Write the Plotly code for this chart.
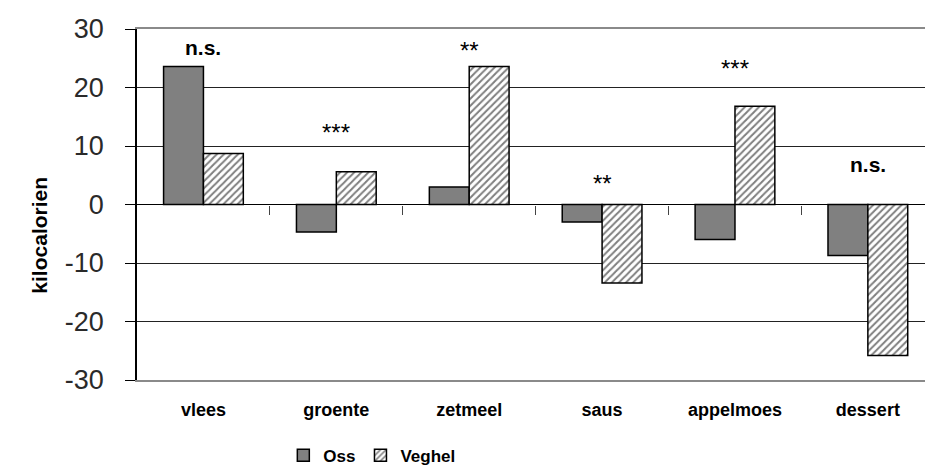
import plotly.graph_objects as go

categories = ["vlees", "groente", "zetmeel", "saus", "appelmoes", "dessert"]
oss = [23.6, -4.7, 3.0, -3.0, -6.0, -8.7]
veghel = [8.7, 5.6, 23.6, -13.4, 16.8, -25.8]
sig_labels = ["n.s.", "***", "**", "**", "***", "n.s."]
sig_y = [26.8, 12.3, 26.3, 3.6, 23.2, 6.8]
yticks = [-30, -20, -10, 0, 10, 20, 30]
ytick_labels = ["-30", "-20", "-10", "0", "10", "20", "30"]

xpos = list(range(len(categories)))
boundaries = [i + 0.5 for i in range(len(categories) - 1)]

fig = go.Figure()
fig.add_trace(go.Bar(
    x=xpos, y=oss, name="Oss",
    marker=dict(color="#808080", line=dict(color="#000000", width=1.5)),
))
fig.add_trace(go.Bar(
    x=xpos, y=veghel, name="Veghel",
    marker=dict(color="#ffffff", line=dict(color="#000000", width=1.5),
                pattern=dict(shape="/", fgcolor="#000000", bgcolor="#ffffff",
                             size=5, solidity=0.4)),
))
# invisible trace for the zero-line tick axis
fig.add_trace(go.Scatter(x=[xpos[0]], y=[0], xaxis="x2", mode="markers",
                         marker=dict(opacity=0), showlegend=False, hoverinfo="skip"))

for i, (lab, yv) in enumerate(zip(sig_labels, sig_y)):
    bold = lab == "n.s."
    fig.add_annotation(x=xpos[i], y=yv, text=f"<b>{lab}</b>" if bold else lab,
                       showarrow=False, xref="x", yref="y",
                       font=dict(family="Arial, Liberation Sans", size=21 if bold else 24,
                                 color="#000000"))

fig.add_annotation(x=-0.142, y=0.413, xref="paper", yref="paper",
                   text="<b>kilocalorien</b>", textangle=-90, showarrow=False,
                   font=dict(family="Arial, Liberation Sans", size=21, color="#000000"))

rng = [-0.5, 5.43]
fig.update_layout(
    width=926, height=475,
    margin=dict(l=137, r=1, t=29, b=95),
    paper_bgcolor="#ffffff", plot_bgcolor="#ffffff",
    barmode="group", bargap=0.4, bargroupgap=0,
    showlegend=True,
    legend=dict(orientation="h", x=0.298, y=-0.216, xanchor="center", yanchor="middle",
                font=dict(family="Arial, Liberation Sans", size=17,
                          color="#000000", weight="bold"),
                traceorder="normal", itemwidth=30),
    xaxis=dict(range=rng, tickmode="array", tickvals=xpos,
               ticktext=[f"<b>{c}</b>" for c in categories],
               tickfont=dict(family="Arial, Liberation Sans", size=18,
                             color="#000000"),
               showgrid=False, zeroline=False, ticks="",
               showline=True, linecolor="#8a8a8a", linewidth=2, mirror=True,
               ticklabelstandoff=12, fixedrange=True),
    xaxis2=dict(range=rng, overlaying="x", anchor="free", position=0.5, side="bottom",
                tickmode="array", tickvals=boundaries, ticks="outside", ticklen=9,
                tickcolor="#444444", tickwidth=1, showticklabels=False,
                showgrid=False, zeroline=False, showline=False),
    yaxis=dict(range=[-30, 30], tickmode="array", tickvals=yticks, ticktext=ytick_labels,
               tickfont=dict(family="Arial, Liberation Sans", size=27, color="#2a2a2a"),
               showgrid=True, gridcolor="#222222", gridwidth=1,
               zeroline=True, zerolinecolor="#000000", zerolinewidth=1,
               showline=True, linecolor="#000000", linewidth=1.5,
               ticks="outside", ticklen=10, tickcolor="#000000",
               ticklabelstandoff=16),
)

fig.write_html(
    "out.html",
    config={"responsive": False, "displayModeBar": False},
    post_script="document.body.style.margin='0';document.body.style.overflow='hidden';",
)
